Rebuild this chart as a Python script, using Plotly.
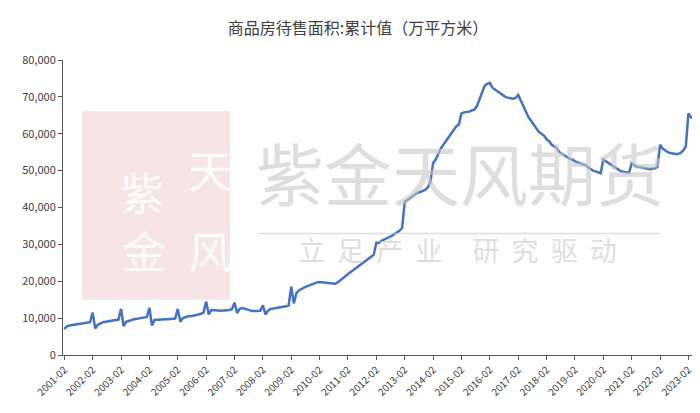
import plotly.graph_objects as go

# monthly values (Feb-Dec each year; Jan merged into Feb), unit: 万平方米
years = list(range(2001, 2024))
values_by_year = {
    2001: [7000, 7800, 8000, 8100, 8200, 8300, 8400, 8500, 8600, 8700, 8900],
    2002: [11500, 7200, 8200, 8600, 8900, 9000, 9100, 9200, 9300, 9500, 9600],
    2003: [12500, 7800, 9000, 9300, 9500, 9700, 9800, 9900, 10000, 10200, 10300],
    2004: [12800, 8000, 9500, 9600, 9600, 9700, 9700, 9700, 9800, 9800, 9900],
    2005: [12500, 9000, 10000, 10300, 10500, 10500, 10600, 10800, 11000, 11200, 11500],
    2006: [14500, 11000, 12200, 12100, 12000, 12000, 12000, 12100, 12100, 12200, 12400],
    2007: [14200, 11400, 12500, 12700, 12500, 12200, 12000, 11900, 11900, 12000, 12000],
    2008: [13500, 11000, 12000, 12500, 12600, 12700, 12700, 12800, 13000, 13200, 13400],
    2009: [18500, 14000, 16800, 17500, 18000, 18300, 18600, 18900, 19200, 19500, 19700],
    2010: [19800, 19700, 19600, 19500, 19400, 19300, 19300, 19700, 20300, 20900, 21500],
    2011: [22000, 22500, 23000, 23500, 24000, 24500, 25000, 25500, 26000, 26500, 27200],
    2012: [30500, 30400, 31000, 31300, 31500, 32000, 32300, 32800, 33200, 33700, 34500],
    2013: [41500, 42000, 42500, 43000, 43500, 44000, 44200, 44500, 44800, 45500, 47000],
    2014: [52000, 53000, 54500, 56000, 57000, 58000, 59000, 60000, 61000, 62000, 62500],
    2015: [65500, 65800, 65800, 66000, 66300, 66500, 67500, 69500, 71500, 73000, 73500],
    2016: [73800, 72500, 72000, 71500, 71000, 70500, 70000, 69800, 69600, 69500, 69700],
    2017: [70500, 69000, 67500, 66000, 64500, 63500, 62500, 61500, 60500, 60000, 59500],
    2018: [58500, 58000, 57000, 56500, 56000, 55000, 54500, 54000, 53500, 53200, 53000],
    2019: [52500, 52200, 52000, 51800, 51500, 51000, 50500, 50000, 49800, 49500, 49300],
    2020: [53000, 52500, 52000, 51500, 51000, 50500, 50200, 49800, 49600, 49500, 49400],
    2021: [52000, 51500, 51000, 51000, 50800, 50600, 50500, 50400, 50500, 50600, 51000],
    2022: [57000, 56000, 55500, 55000, 54800, 54600, 54500, 54500, 54800, 55500, 56500],
    2023: [65500, 64500, 64200, 64500, 65000],
}

dates = []
values = []
for y in years:
    for i, v in enumerate(values_by_year[y]):
        dates.append(f"{y}-{i + 2:02d}")
        values.append(v)

tick_labels = [f"{y}-02" for y in years]

fig = go.Figure(
    go.Scatter(
        x=dates,
        y=values,
        mode="lines",
        line=dict(color="#4472C4", width=2.5),
        showlegend=False,
    )
)


def px_x(px):
    return (px - 55) / 637


def px_y(py):
    return (355 - py) / 294


# watermark: seal + company name
fig.add_shape(type="rect", xref="paper", yref="paper",
              x0=px_x(74), x1=px_x(222), y0=px_y(300), y1=px_y(112),
              fillcolor="rgba(205,90,90,0.16)", line=dict(width=0), layer="below")
for txt, xx, yy in [("紫", 110, 158), ("天", 178, 170), ("金", 112, 250), ("风", 178, 250)]:
    fig.add_annotation(text=txt, x=px_x(xx), y=px_y(yy), xref="paper", yref="paper",
                       showarrow=False, font=dict(size=44, color="rgba(255,255,255,0.9)",
                                                  family="Noto Sans CJK SC"))
fig.add_annotation(text="紫金天风期货", x=px_x(452), y=px_y(172), xref="paper", yref="paper",
                   showarrow=False, font=dict(size=68, color="rgba(200,200,200,0.6)",
                                              family="Noto Sans CJK SC"))
fig.add_shape(type="line", xref="paper", yref="paper",
              x0=px_x(250), x1=px_x(652), y0=px_y(234), y1=px_y(234),
              line=dict(color="rgba(200,200,200,0.6)", width=1.5))
fig.add_annotation(text="立  足  产  业     研  究  驱  动", x=px_x(450), y=px_y(271),
                   xref="paper", yref="paper", showarrow=False,
                   font=dict(size=27, color="rgba(200,200,200,0.6)", family="Noto Sans CJK SC"))

fig.update_layout(
    title=dict(text="商品房待售面积:累计值（万平方米）", x=0.5, y=0.965,
               font=dict(size=16, color="#404040", family="Noto Sans CJK SC")),
    width=700,
    height=413,
    margin=dict(l=55, r=8, t=52, b=66),
    plot_bgcolor="white",
    paper_bgcolor="white",
    font=dict(family="Noto Sans CJK SC", color="#404040", size=11),
)
fig.update_xaxes(
    type="category",
    tickmode="array",
    tickvals=tick_labels,
    ticktext=tick_labels,
    tickangle=-45,
    ticks="outside",
    ticklen=4,
    tickcolor="#595959",
    showline=True,
    linecolor="#595959",
    showgrid=False,
    range=[-0.5, len(dates) - 0.5],
    tickfont=dict(size=10),
)
fig.update_yaxes(
    range=[0, 80000],
    dtick=10000,
    tickformat=",",
    showgrid=False,
    showline=True,
    linecolor="#595959",
    ticks="outside",
    ticklen=4,
    tickcolor="#595959",
    tickfont=dict(size=11),
)

fig.write_html("out.html")
